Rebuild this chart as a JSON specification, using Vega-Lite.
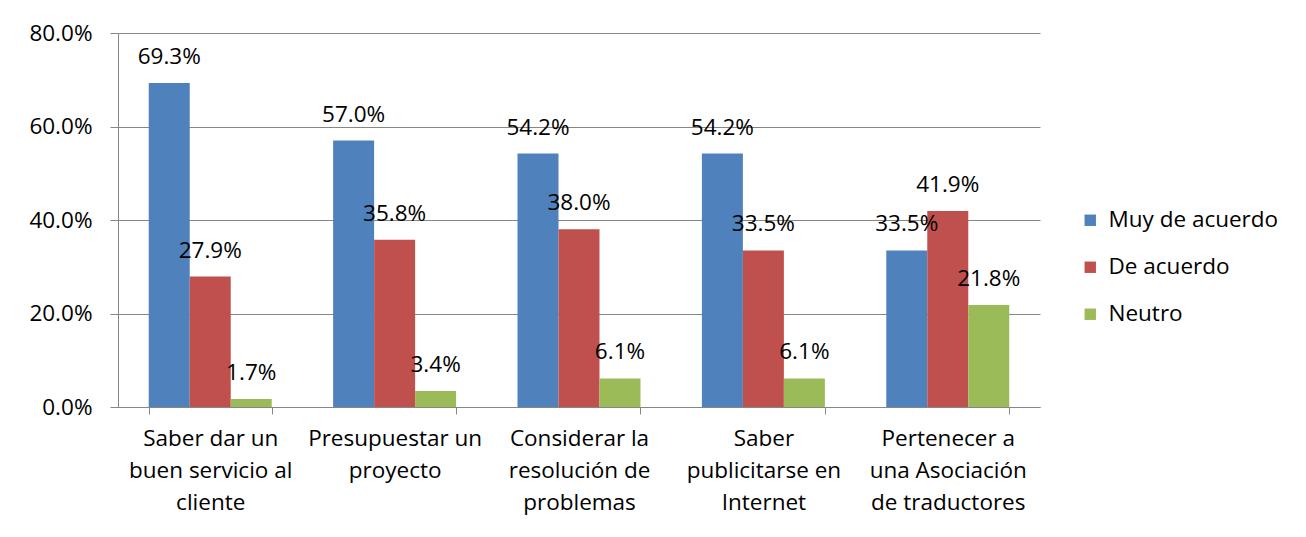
{
  "$schema": "https://vega.github.io/schema/vega-lite/v6.json",
  "width": 922,
  "height": 374,
  "autosize": {"type": "none"},
  "padding": {"left": 118, "top": 33, "right": 266, "bottom": 130},
  "background": "white",
  "config": {"view": {"stroke": null}, "font": "Open Sans"},
  "data": {
    "values": [
      {"categoria": "Saber dar un buen servicio al cliente", "serie": "Muy de acuerdo", "valor": 0.693},
      {"categoria": "Saber dar un buen servicio al cliente", "serie": "De acuerdo", "valor": 0.279},
      {"categoria": "Saber dar un buen servicio al cliente", "serie": "Neutro", "valor": 0.017},
      {"categoria": "Presupuestar un proyecto", "serie": "Muy de acuerdo", "valor": 0.570},
      {"categoria": "Presupuestar un proyecto", "serie": "De acuerdo", "valor": 0.358},
      {"categoria": "Presupuestar un proyecto", "serie": "Neutro", "valor": 0.034},
      {"categoria": "Considerar la resolución de problemas", "serie": "Muy de acuerdo", "valor": 0.542},
      {"categoria": "Considerar la resolución de problemas", "serie": "De acuerdo", "valor": 0.380},
      {"categoria": "Considerar la resolución de problemas", "serie": "Neutro", "valor": 0.061},
      {"categoria": "Saber publicitarse en Internet", "serie": "Muy de acuerdo", "valor": 0.542},
      {"categoria": "Saber publicitarse en Internet", "serie": "De acuerdo", "valor": 0.335},
      {"categoria": "Saber publicitarse en Internet", "serie": "Neutro", "valor": 0.061},
      {"categoria": "Pertenecer a una Asociación de traductores", "serie": "Muy de acuerdo", "valor": 0.335},
      {"categoria": "Pertenecer a una Asociación de traductores", "serie": "De acuerdo", "valor": 0.419},
      {"categoria": "Pertenecer a una Asociación de traductores", "serie": "Neutro", "valor": 0.218}
    ]
  },
  "encoding": {
    "x": {
      "field": "categoria",
      "type": "nominal",
      "sort": null,
      "scale": {"paddingInner": 0.333, "paddingOuter": 0.1667},
      "axis": {
        "title": null,
        "labelAngle": 0,
        "labelFontSize": 22.5,
        "labelColor": "black",
        "labelLineHeight": 32,
        "labelLimit": 220,
        "labelPadding": 13,
        "labelBaseline": "top",
        "tickBand": "extent",
        "tickSize": 7,
        "tickColor": "#868686",
        "domainColor": "#868686",
        "labelExpr": "{'Saber dar un buen servicio al cliente': ['Saber dar un', 'buen servicio al', 'cliente'], 'Presupuestar un proyecto': ['Presupuestar un', 'proyecto'], 'Considerar la resolución de problemas': ['Considerar la', 'resolución de', 'problemas'], 'Saber publicitarse en Internet': ['Saber', 'publicitarse en', 'Internet'], 'Pertenecer a una Asociación de traductores': ['Pertenecer a', 'una Asociación', 'de traductores']}[datum.value]"
      }
    },
    "xOffset": {
      "field": "serie",
      "type": "nominal",
      "sort": ["Muy de acuerdo", "De acuerdo", "Neutro"],
      "scale": {"paddingInner": 0, "paddingOuter": 0}
    },
    "y": {
      "field": "valor",
      "type": "quantitative",
      "scale": {"domain": [0, 0.8], "nice": false},
      "axis": {
        "title": null,
        "values": [0, 0.2, 0.4, 0.6, 0.8],
        "format": ".1%",
        "labelFontSize": 22.5,
        "labelColor": "black",
        "labelPadding": 18,
        "tickSize": 8,
        "tickColor": "#868686",
        "domainColor": "#868686",
        "gridColor": "#868686",
        "grid": true
      }
    }
  },
  "layer": [
    {
      "mark": {"type": "bar"},
      "encoding": {
        "color": {
          "field": "serie",
          "type": "nominal",
          "sort": ["Muy de acuerdo", "De acuerdo", "Neutro"],
          "scale": {"domain": ["Muy de acuerdo", "De acuerdo", "Neutro"], "range": ["#4F81BD", "#C0504D", "#9BBB59"]},
          "legend": {
            "title": null,
            "orient": "none",
            "legendX": 961,
            "legendY": 176,
            "labelFontSize": 22.5,
            "labelLimit": 300,
            "labelColor": "black",
            "symbolType": "square",
            "symbolSize": 130,
            "symbolStrokeWidth": 0,
            "rowPadding": 24,
            "labelOffset": 7
          }
        }
      }
    },
    {
      "mark": {"type": "text", "baseline": "middle", "dy": -26, "fontSize": 22.5, "color": "black"},
      "encoding": {
        "text": {"field": "valor", "type": "quantitative", "format": ".1%"}
      }
    }
  ]
}
